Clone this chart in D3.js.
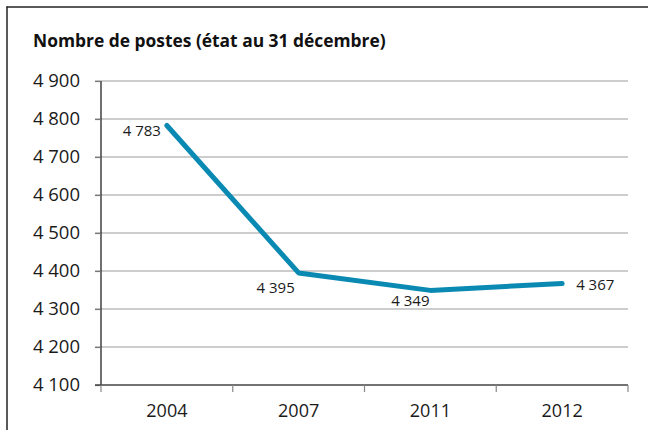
<!DOCTYPE html>
<html><head><meta charset="utf-8">
<script src="https://cdn.jsdelivr.net/npm/d3@7"></script>
<style>body{margin:0;background:#fff;}svg{display:block;}</style>
</head><body>
<script>
const categories = ["2004","2007","2011","2012"];
const values = [4783, 4395, 4349, 4367];
const valueLabels = ["4 783","4 395","4 349","4 367"];
const yTicks = [4100,4200,4300,4400,4500,4600,4700,4800,4900];
const title = "Nombre de postes (état au 31 décembre)";

const W = 653, H = 430;
const m = {left:101, right:25, top:81, bottom:45};
const svg = d3.select("body").append("svg").attr("width",W).attr("height",H);
const font = "'Open Sans', 'DejaVu Sans', sans-serif";

// frame
svg.append("line").attr("x1",7).attr("x2",7).attr("y1",6.5).attr("y2",H).attr("stroke","#222").attr("stroke-width",1.5);
svg.append("line").attr("x1",6.5).attr("x2",648).attr("y1",7).attr("y2",7).attr("stroke","#222").attr("stroke-width",1.5);

svg.append("text").attr("x",33).attr("y",47).text(title)
  .attr("font-family",font).attr("font-weight","bold").attr("font-size",17.4).attr("fill","#111");

const x = d3.scaleBand().domain(categories).range([m.left, W-m.right]);
const y = d3.scaleLinear().domain([4100,4900]).range([H-m.bottom, m.top]);

// gridlines
svg.append("g").selectAll("line").data(yTicks.slice(1)).join("line")
  .attr("x1",95).attr("x2",W-m.right).attr("y1",d=>y(d)).attr("y2",d=>y(d))
  .attr("stroke","#bdbdbd").attr("stroke-width",1.5);

// y axis
const ya = svg.append("g").attr("transform",`translate(${m.left},0)`)
  .call(d3.axisLeft(y).tickValues(yTicks).tickSize(6).tickPadding(15).tickFormat(d=>d3.format(",")(d).replace(",", " ")));
ya.select(".domain").attr("stroke","#111").attr("stroke-width",1.2).attr("d",`M0,${y(4100)}V${y(4900)}`);
ya.selectAll(".tick line").attr("stroke","#777").attr("stroke-width",1.2);
ya.selectAll("text").attr("font-family",font).attr("font-size",18.5).attr("fill","#1a1a1a");

// x axis
const xa = svg.append("g").attr("transform",`translate(0,${H-m.bottom})`)
  .call(d3.axisBottom(x).tickSize(0).tickPadding(19));
xa.select(".domain").attr("stroke","#444").attr("stroke-width",1.6).attr("d",`M${m.left-6},0H${W-m.right}`);
xa.selectAll("text").attr("font-family",font).attr("font-size",18).attr("fill","#1a1a1a");
const bounds = categories.map(c=>x(c)).concat([W-m.right]);
xa.append("g").selectAll("line").data(bounds).join("line")
  .attr("x1",d=>d).attr("x2",d=>d).attr("y1",0).attr("y2",7).attr("stroke","#888").attr("stroke-width",1.2);

// line
const pts = categories.map((c,i)=>({c, v:values[i], l:valueLabels[i]}));
svg.append("path").datum(pts)
  .attr("d", d3.line().x(d=>x(d.c)+x.bandwidth()/2).y(d=>y(d.v)))
  .attr("fill","none").attr("stroke","#0a8ab3").attr("stroke-width",5).attr("stroke-linecap","round").attr("stroke-linejoin","round");

// labels
const offs = [{dx:-6,dy:11,a:"end"},{dx:-23,dy:20,a:"middle"},{dx:-20,dy:16,a:"middle"},{dx:14,dy:6,a:"start"}];
svg.append("g").selectAll("text").data(pts).join("text")
  .attr("x",(d,i)=>x(d.c)+x.bandwidth()/2+offs[i].dx)
  .attr("y",(d,i)=>y(d.v)+offs[i].dy)
  .attr("text-anchor",(d,i)=>offs[i].a)
  .attr("font-family",font).attr("font-size",15).attr("fill","#1a1a1a")
  .text(d=>d.l);
</script>
</body></html>
